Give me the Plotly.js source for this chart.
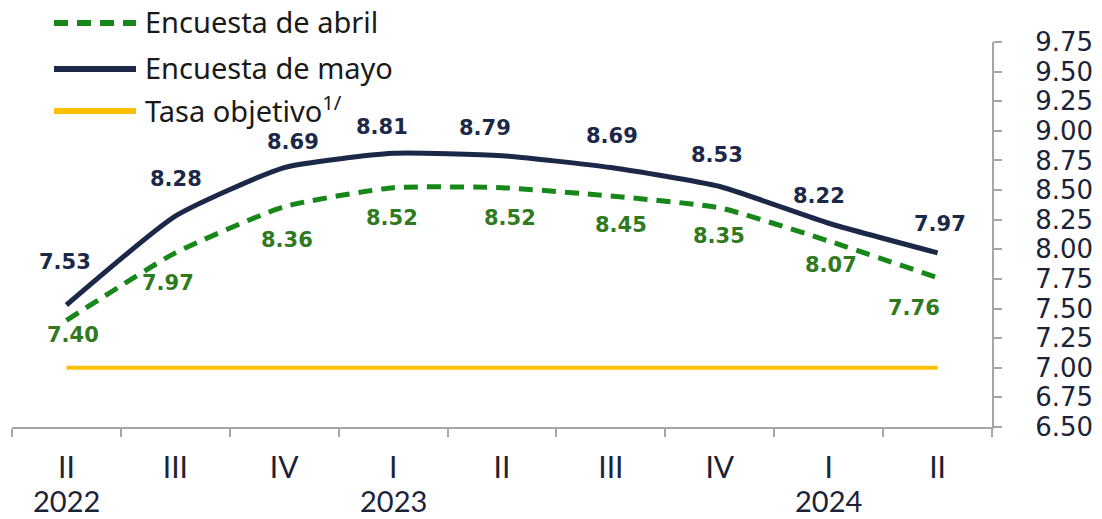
<!DOCTYPE html>
<html>
<head>
<meta charset="utf-8">
<script src="https://cdn.plot.ly/plotly-3.0.1.min.js"></script>
<style>html,body{margin:0;padding:0;background:#fff;}#chart{width:1102px;height:519px;}</style>
</head>
<body>
<div id="chart"></div>
<script>
// ---- data ----
const categories = ["II-2022","III-2022","IV-2022","I-2023","II-2023","III-2023","IV-2023","I-2024","II-2024"];
const tickLabels = ["II","III","IV","I","II","III","IV","I","II"];
const yearLabels = ["2022", "2023", "2024"];
const yearAt = ["II-2022", "I-2023", "I-2024"];
const encuestaAbril = [7.40, 7.97, 8.36, 8.52, 8.52, 8.45, 8.35, 8.07, 7.76];
const encuestaMayo  = [7.53, 8.28, 8.69, 8.81, 8.79, 8.69, 8.53, 8.22, 7.97];
const tasaObjetivo  = [7.00, 7.00, 7.00, 7.00, 7.00, 7.00, 7.00, 7.00, 7.00];
const yTicks = [6.50, 6.75, 7.00, 7.25, 7.50, 7.75, 8.00, 8.25, 8.50, 8.75, 9.00, 9.25, 9.50, 9.75];
const seriesNames = ["Encuesta de abril", "Encuesta de mayo", "Tasa objetivo<sup>1/</sup>"];

// ---- label placement (pixel offsets) ----
const mayoDy  = [43, 37, 26, 26, 28, 32, 32, 27, 29];
const mayoDx  = [-1, 1, 9, -11, -17, 1, -3, -10, 2];
const abrilDy = [-15, -30, -33, -30, -30, -29, -28, -24, -30];
const abrilDx = [7, -7, 3, -1, 8, 10, -1, 2, -24];

const NAVY = "#1b2847";
const GREEN = "#17871a";
const GREEN_TXT = "#2f7a1f";
const YELLOW = "#ffc000";
const AXIS = "#a6a6a6";
const TXT = "#1c2338";

const traces = [
  {x: categories, y: tasaObjetivo, type: "scatter", mode: "lines", name: seriesNames[2],
   line: {color: YELLOW, width: 4}, hoverinfo: "skip"},
  {x: categories, y: encuestaAbril, type: "scatter", mode: "lines", name: seriesNames[0],
   line: {color: GREEN, width: 5, dash: "14px,9px", shape: "spline", smoothing: 0.5}},
  {x: categories, y: encuestaMayo, type: "scatter", mode: "lines", name: seriesNames[1],
   line: {color: NAVY, width: 5, shape: "spline", smoothing: 0.5}}
];

const annotations = [];
const fmt = v => v.toFixed(2);
categories.forEach((c, i) => {
  annotations.push({x: c, y: encuestaMayo[i], xref: "x", yref: "y", text: fmt(encuestaMayo[i]),
    showarrow: false, xanchor: "center", yanchor: "middle", yshift: mayoDy[i], xshift: mayoDx[i],
    font: {family: "DejaVu Sans", size: 21, color: NAVY, weight: "bold"}});
  annotations.push({x: c, y: encuestaAbril[i], xref: "x", yref: "y", text: fmt(encuestaAbril[i]),
    showarrow: false, xanchor: "center", yanchor: "middle", yshift: abrilDy[i], xshift: abrilDx[i],
    font: {family: "DejaVu Sans", size: 21, color: GREEN_TXT, weight: "bold"}});
});

// plot area 12..992 x, 42..427 y
const W = 980, H = 385, L = 12, T = 42;
const px = x => (x - L) / W;
const py = y => (T + H - y) / H;

// year labels (second tick row)
yearLabels.forEach((t, i) => {
  annotations.push({x: yearAt[i], xref: "x", yref: "paper", y: py(500), text: t,
    showarrow: false, xanchor: "center", yanchor: "middle",
    font: {family: "Lato", size: 29, color: TXT}});
});

// manual legend
const legendRows = [
  {y: 21, color: GREEN, dash: "dash", width: 6},
  {y: 67, color: NAVY, dash: "solid", width: 6},
  {y: 109, color: YELLOW, dash: "solid", width: 6}
];
const shapes = [];
legendRows.forEach((r, i) => {
  shapes.push({type: "line", xref: "paper", yref: "paper", x0: px(54), x1: px(136), y0: py(r.y + 2), y1: py(r.y + 2),
    line: {color: r.color, width: r.width, dash: r.dash === "dash" ? "14px,9px" : "solid"}});
  annotations.push({xref: "paper", yref: "paper", x: px(143), y: py(r.y), text: seriesNames[i],
    showarrow: false, xanchor: "left", yanchor: "middle",
    font: {family: "Noto Sans", size: 29, color: "#1a1a1a"}});
});

const layout = {
  width: 1102, height: 519,
  margin: {l: L, r: 1102 - 992, t: T, b: 519 - 427, pad: 0},
  paper_bgcolor: "#fff", plot_bgcolor: "#fff",
  showlegend: false,
  xaxis: {
    type: "category", range: [-0.5, 8.5], tickvals: categories, ticktext: tickLabels,
    showline: true, linecolor: AXIS, linewidth: 2, showgrid: false, zeroline: false,
    ticks: "outside", tickson: "boundaries", ticklen: 8, tickcolor: AXIS, tickwidth: 2,
    tickfont: {family: "Lato", size: 30, color: TXT}, ticklabelstandoff: 13, fixedrange: true
  },
  yaxis: {
    side: "right", range: [6.5, 9.75], tickvals: yTicks, ticktext: yTicks.map(fmt),
    showline: true, linecolor: AXIS, linewidth: 2, showgrid: false, zeroline: false,
    ticks: "outside", ticklen: 8, tickcolor: AXIS, tickwidth: 2,
    tickfont: {family: "DejaVu Sans", size: 26, color: TXT}, ticklabelstandoff: 28, fixedrange: true
  },
  annotations: annotations,
  shapes: shapes
};

Plotly.newPlot("chart", traces, layout, {displayModeBar: false, staticPlot: true});
</script>
</body>
</html>
